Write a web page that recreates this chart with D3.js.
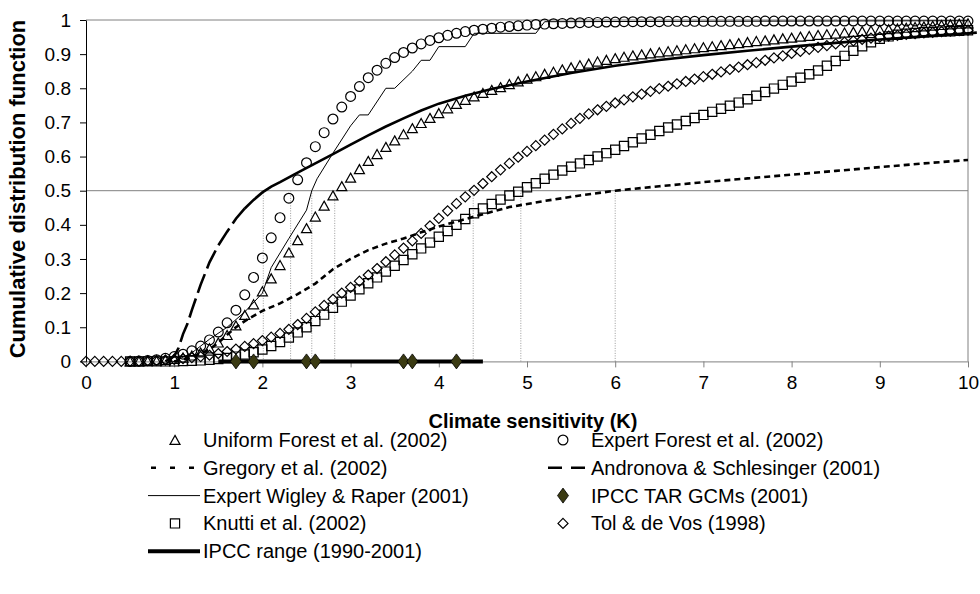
<!DOCTYPE html>
<html>
<head>
<meta charset="utf-8">
<script src="https://cdn.jsdelivr.net/npm/d3@7"></script>
<style>
  body { margin: 0; background: #fff; }
  svg { display: block; }
</style>
</head>
<body>
<div id="chart"></div>
<script>
// --- data (climate sensitivity in K, CDF values) ---
const markerStart = 0.5;   // first sample of the 0.1 K marker series
const markerStep = 0.1;

const uniformForest = [0, 0, 0.001, 0.002, 0.004, 0.007, 0.011, 0.017, 0.026, 0.038,
  0.055, 0.077, 0.105, 0.136, 0.167, 0.205, 0.243, 0.282, 0.319, 0.355,
  0.39, 0.424, 0.456, 0.486, 0.513, 0.538, 0.563, 0.587, 0.607, 0.628,
  0.647, 0.665, 0.683, 0.698, 0.713, 0.727, 0.741, 0.754, 0.766, 0.776,
  0.786, 0.795, 0.803, 0.812, 0.82, 0.828, 0.835, 0.842, 0.848, 0.855,
  0.861, 0.867, 0.872, 0.878, 0.883, 0.888, 0.892, 0.896, 0.899, 0.902,
  0.905, 0.908, 0.911, 0.914, 0.917, 0.92, 0.923, 0.926, 0.929, 0.932,
  0.935, 0.938, 0.94, 0.943, 0.946, 0.948, 0.951, 0.953, 0.956, 0.958,
  0.96, 0.963, 0.965, 0.967, 0.969, 0.971, 0.973, 0.975, 0.977, 0.979,
  0.981, 0.983, 0.985, 0.987, 0.989, 0.99];

const expertForest = [0, 0.001, 0.003, 0.005, 0.009, 0.014, 0.021, 0.031, 0.045, 0.063,
  0.086, 0.113, 0.15, 0.195, 0.246, 0.303, 0.362, 0.421, 0.478, 0.532,
  0.582, 0.629, 0.67, 0.71, 0.745, 0.776, 0.805, 0.831, 0.853, 0.873,
  0.89, 0.905, 0.918, 0.93, 0.94, 0.948, 0.955, 0.961, 0.966, 0.97,
  0.973, 0.976, 0.979, 0.981, 0.983, 0.985, 0.987, 0.988, 0.989, 0.99,
  0.991, 0.992, 0.993, 0.993, 0.994, 0.994, 0.995, 0.995, 0.995, 0.995,
  0.995, 0.996, 0.996, 0.996, 0.996, 0.996, 0.996, 0.996, 0.996, 0.996,
  0.996, 0.996, 0.997, 0.997, 0.997, 0.997, 0.997, 0.997, 0.997, 0.997,
  0.997, 0.997, 0.997, 0.997, 0.997, 0.997, 0.997, 0.997, 0.997, 0.997,
  0.997, 0.997, 0.997, 0.997, 0.997, 0.997];

const knutti = [0, 0, 0, 0, 0, 0, 0.001, 0.002, 0.003, 0.005,
  0.007, 0.01, 0.014, 0.02, 0.027, 0.035, 0.045, 0.057, 0.07, 0.085,
  0.1, 0.118, 0.137, 0.157, 0.175, 0.193, 0.211, 0.229, 0.246, 0.263,
  0.28, 0.297, 0.314, 0.331, 0.348, 0.365, 0.382, 0.4, 0.417, 0.434,
  0.448, 0.461, 0.474, 0.486, 0.497, 0.51, 0.522, 0.535, 0.547, 0.559,
  0.57, 0.58, 0.59, 0.6, 0.61, 0.62, 0.631, 0.642, 0.653, 0.664,
  0.675, 0.685, 0.694, 0.704, 0.713, 0.722, 0.731, 0.74, 0.749, 0.758,
  0.768, 0.778, 0.789, 0.799, 0.81, 0.82, 0.831, 0.841, 0.852, 0.866,
  0.88, 0.895, 0.91, 0.923, 0.935, 0.945, 0.952, 0.957, 0.96, 0.962,
  0.964, 0.965, 0.966, 0.967, 0.968, 0.97];

const tolStart = 0;
const tolDeVos = [0, 0, 0, 0, 0, 0.001, 0.001, 0.002, 0.003, 0.004,
  0.006, 0.008, 0.011, 0.014, 0.018, 0.023, 0.029, 0.036, 0.044, 0.052,
  0.061, 0.071, 0.082, 0.094, 0.108, 0.126, 0.145, 0.164, 0.182, 0.2,
  0.217, 0.235, 0.253, 0.272, 0.292, 0.312, 0.332, 0.353, 0.375, 0.397,
  0.419, 0.441, 0.462, 0.482, 0.501, 0.521, 0.541, 0.561, 0.58, 0.598,
  0.615, 0.632, 0.648, 0.665, 0.681, 0.697, 0.712, 0.725, 0.737, 0.747,
  0.757, 0.766, 0.775, 0.783, 0.791, 0.799, 0.806, 0.813, 0.82, 0.827,
  0.834, 0.841, 0.848, 0.855, 0.862, 0.869, 0.875, 0.882, 0.889, 0.895,
  0.902, 0.908, 0.914, 0.92, 0.925, 0.93, 0.935, 0.939, 0.943, 0.947,
  0.95, 0.953, 0.955, 0.958, 0.96, 0.962, 0.964, 0.966, 0.967, 0.969, 0.97];

const gregoryX = [1.0, 1.2, 1.4, 1.5, 1.6, 1.7, 1.8, 2.0, 2.2, 2.4, 2.6, 2.8, 3.0, 3.2, 3.4, 3.6,
  3.8, 4.0, 4.4, 4.8, 5.2, 5.6, 6.0, 6.5, 7.0, 7.5, 8.0, 8.5, 9.0, 9.5, 10.0];
const gregoryY = [0, 0.012, 0.035, 0.055, 0.078, 0.1, 0.118, 0.148, 0.17, 0.197, 0.228, 0.27,
  0.3, 0.326, 0.345, 0.36, 0.378, 0.395, 0.424, 0.452, 0.47, 0.486, 0.5, 0.513, 0.525,
  0.536, 0.547, 0.558, 0.569, 0.58, 0.59];

const andronovaX = [0.9, 1.0, 1.05, 1.1, 1.15, 1.2, 1.3, 1.4, 1.5, 1.6, 1.7, 1.8, 1.9, 2.0, 2.1,
  2.2, 2.4, 2.6, 2.8, 3.0, 3.2, 3.4, 3.6, 3.8, 4.0, 4.3, 4.6, 5.0, 5.5, 6.0, 6.5, 7.0, 7.5,
  8.0, 8.5, 9.0, 9.5, 10.0, 10.1];
const andronovaY = [0, 0.015, 0.04, 0.08, 0.11, 0.15, 0.225, 0.29, 0.34, 0.38, 0.418, 0.448,
  0.473, 0.495, 0.512, 0.525, 0.553, 0.58, 0.607, 0.635, 0.662, 0.688, 0.712, 0.735, 0.755,
  0.778, 0.798, 0.82, 0.845, 0.866, 0.883, 0.897, 0.91, 0.922, 0.933, 0.943, 0.952, 0.961, 0.963];
const andronovaDashedTo = 1.8;

const wigleyX = [1.0, 1.2, 1.4, 1.6, 1.8, 2.0, 2.1, 2.3, 2.5, 2.56, 2.62, 2.8, 3.0, 3.1, 3.2,
  3.4, 3.5, 3.7, 3.8, 3.9, 4.0, 4.3, 4.4, 5.1, 5.2, 10.0];
const wigleyY = [0, 0.025, 0.065, 0.1, 0.145, 0.2, 0.275, 0.36, 0.443, 0.5, 0.535, 0.61, 0.69,
  0.722, 0.722, 0.8, 0.8, 0.85, 0.882, 0.882, 0.922, 0.922, 0.961, 0.961, 0.995, 0.998];

const tarGCMs = [1.7, 1.9, 2.5, 2.6, 3.6, 3.7, 4.2];
const ipccRange = [1.5, 4.5];
const medians = [2.01, 2.32, 2.56, 2.82, 4.39, 4.93, 6.0];

const xTicks = [0, 1, 2, 3, 4, 5, 6, 7, 8, 9, 10];
const yTicks = [0, 0.1, 0.2, 0.3, 0.4, 0.5, 0.6, 0.7, 0.8, 0.9, 1];

const legendItems = [
  { label: "Uniform Forest et al. (2002)", kind: "tri", col: 0, row: 0 },
  { label: "Expert Forest et al. (2002)", kind: "circle", col: 1, row: 0 },
  { label: "Gregory et al. (2002)", kind: "gregory", col: 0, row: 1 },
  { label: "Andronova & Schlesinger (2001)", kind: "andronova", col: 1, row: 1 },
  { label: "Expert Wigley & Raper (2001)", kind: "wigley", col: 0, row: 2 },
  { label: "IPCC TAR GCMs (2001)", kind: "gcm", col: 1, row: 2 },
  { label: "Knutti et al. (2002)", kind: "square", col: 0, row: 3 },
  { label: "Tol & de Vos (1998)", kind: "diamond", col: 1, row: 3 },
  { label: "IPCC range (1990-2001)", kind: "range", col: 0, row: 4 }
];

// --- drawing ---
const width = 980, height = 594;
const font = "'Liberation Sans', Arial, Helvetica, sans-serif";
const narrowFont = "'Liberation Sans Narrow', 'Arial Narrow', 'Liberation Sans', sans-serif";
const grey = "#808080";

const svg = d3.select("#chart").append("svg")
  .attr("width", width)
  .attr("height", height)
  .style("font-family", font);

const x = d3.scaleLinear().domain([0, 10]).range([86, 968]);
const y = d3.scaleLinear().domain([0, 1]).range([361.4, 20]);

// marker shapes
const shapes = {
  tri: "M0,-4.6L5,4.4L-5,4.4Z",
  diamond: "M0,-5L5,0L0,5L-5,0Z",
  square: "M-4.6,-4.6H4.6V4.6H-4.6Z",
  gcm: "M0,-7.5L5.5,0L0,7.5L-5.5,0Z"
};

// frame + reference lines
svg.append("line").attr("x1", x(0)).attr("x2", x(10)).attr("y1", y(1)).attr("y2", y(1))
  .attr("stroke", grey);
svg.append("line").attr("x1", x(10)).attr("x2", x(10)).attr("y1", y(1)).attr("y2", y(0))
  .attr("stroke", grey);
svg.append("line").attr("x1", x(0)).attr("x2", x(10)).attr("y1", y(0.5)).attr("y2", y(0.5))
  .attr("stroke", grey);

svg.selectAll(".median").data(medians).join("line")
  .attr("class", "median")
  .attr("x1", d => x(d)).attr("x2", d => x(d))
  .attr("y1", y(0)).attr("y2", y(0.5))
  .attr("stroke", grey)
  .attr("stroke-width", 0.8)
  .attr("stroke-dasharray", "1,1.5");

// axes
const xAxis = svg.append("g")
  .attr("transform", `translate(0,${y(0)})`)
  .call(d3.axisBottom(x).tickValues(xTicks).tickSize(6).tickSizeOuter(0).tickPadding(8));
xAxis.select(".domain").attr("stroke", grey);
xAxis.selectAll(".tick line").attr("stroke", grey);
xAxis.selectAll("text").attr("font-size", 19).attr("font-family", font).attr("fill", "#000");

const yAxis = svg.append("g")
  .attr("transform", `translate(${x(0)},0)`)
  .call(d3.axisLeft(y).tickValues(yTicks).tickSize(6).tickSizeOuter(0).tickPadding(9)
    .tickFormat(d3.format("~g")));
yAxis.selectAll("text").attr("font-size", 19).attr("font-family", font).attr("fill", "#000");

svg.append("text")
  .attr("x", 533).attr("y", 428)
  .attr("text-anchor", "middle")
  .attr("font-size", 20).attr("font-weight", "bold")
  .text("Climate sensitivity (K)");

svg.append("text")
  .attr("transform", "translate(25,189) rotate(-90)")
  .attr("text-anchor", "middle")
  .attr("font-size", 22).attr("font-weight", "bold")
  .text("Cumulative distribution function");

// line series
const lineGen = d3.line().x(d => x(d[0])).y(d => y(d[1]));

const gregory = d3.zip(gregoryX, gregoryY);
svg.append("path").attr("d", lineGen(gregory))
  .attr("fill", "none").attr("stroke", "#000").attr("stroke-width", 2.6)
  .attr("stroke-dasharray", "6,4");

const andronova = d3.zip(andronovaX, andronovaY);
svg.append("path").attr("d", lineGen(andronova.filter(d => d[0] <= andronovaDashedTo)))
  .attr("fill", "none").attr("stroke", "#000").attr("stroke-width", 2.6)
  .attr("stroke-dasharray", "20,6");
svg.append("path").attr("d", lineGen(andronova.filter(d => d[0] >= andronovaDashedTo)))
  .attr("fill", "none").attr("stroke", "#000").attr("stroke-width", 2.6);

const wigley = d3.zip(wigleyX, wigleyY);
svg.append("path").attr("d", lineGen(wigley))
  .attr("fill", "none").attr("stroke", "#000").attr("stroke-width", 1);

// marker series
function markerSeries(values, start, kind) {
  const pts = values.map((v, i) => [start + i * markerStep, v]);
  const g = svg.append("g");
  if (kind === "circle") {
    g.selectAll("circle").data(pts).join("circle")
      .attr("cx", d => x(d[0])).attr("cy", d => y(d[1])).attr("r", 4.9)
      .attr("fill", "none").attr("stroke", "#000").attr("stroke-width", 1.2);
  } else {
    g.selectAll("path").data(pts).join("path")
      .attr("transform", d => `translate(${x(d[0])},${y(d[1])})`)
      .attr("d", shapes[kind])
      .attr("fill", "none").attr("stroke", "#000").attr("stroke-width", 1.2);
  }
}
markerSeries(tolDeVos, tolStart, "diamond");
markerSeries(knutti, markerStart, "square");
markerSeries(uniformForest, markerStart, "tri");
markerSeries(expertForest, markerStart, "circle");

// IPCC range bar and TAR GCM values
svg.append("line")
  .attr("x1", x(ipccRange[0])).attr("x2", x(ipccRange[1]))
  .attr("y1", y(0)).attr("y2", y(0))
  .attr("stroke", "#000").attr("stroke-width", 4);

svg.selectAll(".gcm").data(tarGCMs).join("path")
  .attr("class", "gcm")
  .attr("transform", d => `translate(${x(d)},${y(0)})`)
  .attr("d", shapes.gcm)
  .attr("fill", "#3a3a12").attr("stroke", "#000").attr("stroke-width", 0.8);

// legend
const legendCols = [175, 563];
const legendRow0 = 440, legendRowStep = 27.8;
const legend = svg.append("g");
legendItems.forEach(item => {
  const cx = legendCols[item.col];
  const cy = legendRow0 + item.row * legendRowStep;
  const g = legend.append("g");
  if (item.kind === "circle") {
    g.append("circle").attr("cx", cx).attr("cy", cy).attr("r", 4.9)
      .attr("fill", "none").attr("stroke", "#000").attr("stroke-width", 1.2);
  } else if (item.kind === "tri" || item.kind === "square" || item.kind === "diamond") {
    g.append("path").attr("transform", `translate(${cx},${cy})`).attr("d", shapes[item.kind])
      .attr("fill", "none").attr("stroke", "#000").attr("stroke-width", 1.2);
  } else if (item.kind === "gcm") {
    g.append("path").attr("transform", `translate(${cx},${cy})`).attr("d", shapes.gcm)
      .attr("fill", "#3a3a12").attr("stroke", "#000").attr("stroke-width", 0.8);
  } else {
    const ln = g.append("line").attr("x1", cx - 27).attr("x2", cx + 25)
      .attr("y1", cy).attr("y2", cy).attr("stroke", "#000");
    if (item.kind === "gregory") ln.attr("x1", cx - 24).attr("x2", cx + 20)
      .attr("stroke-width", 2.6).attr("stroke-dasharray", "5,14");
    if (item.kind === "andronova") ln.attr("x1", cx - 15).attr("x2", cx + 24)
      .attr("stroke-width", 2.6).attr("stroke-dasharray", "14,9");
    if (item.kind === "wigley") ln.attr("stroke-width", 1);
    if (item.kind === "range") ln.attr("stroke-width", 4);
  }
  g.append("text")
    .attr("x", cx + 28).attr("y", cy)
    .attr("dy", "0.35em")
    .attr("font-size", 20)
    .attr("font-family", narrowFont)
    .text(item.label);
});
</script>
</body>
</html>
